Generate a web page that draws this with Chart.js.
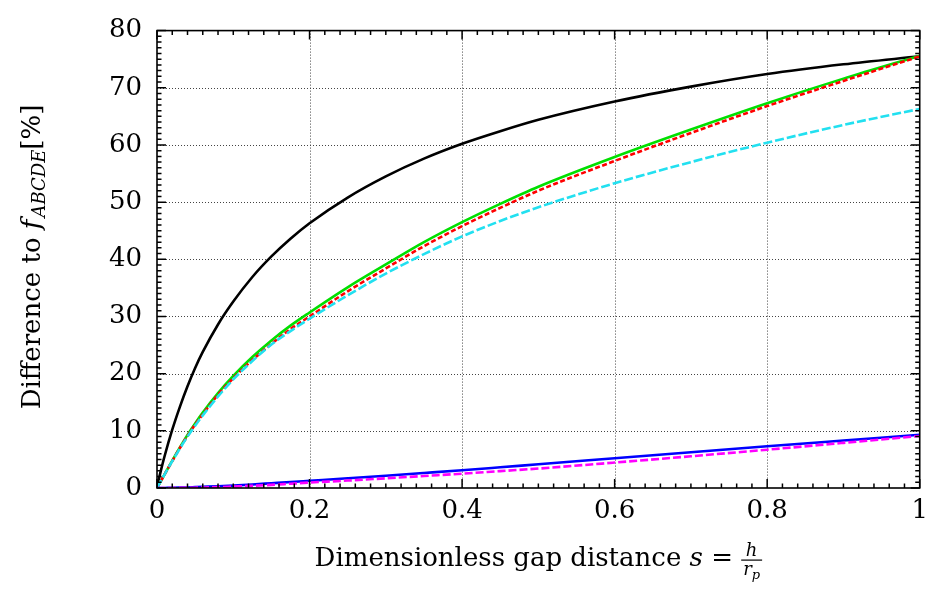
<!DOCTYPE html>
<html>
<head>
<meta charset="utf-8">
<script src="https://cdn.jsdelivr.net/npm/chart.js@4/dist/chart.umd.min.js"></script>
<style>
  html, body { margin: 0; padding: 0; background: #fff; }
  #wrap { width: 936px; height: 593px; position: relative; }
</style>
</head>
<body>
<div id="wrap"><canvas id="c" width="936" height="593"></canvas></div>
<script>
// ---- data ----
const sValues = [0, 0.0025, 0.005, 0.01, 0.02, 0.03, 0.04, 0.05, 0.06, 0.08, 0.1, 0.125, 0.15, 0.175, 0.2, 0.25, 0.3, 0.35, 0.4, 0.45, 0.5, 0.6, 0.7, 0.8, 0.9, 1.0];
const blackSeries   = [0, 1.6, 3.0, 5.6, 10.2, 14.2, 17.8, 21.0, 23.8, 28.6, 32.6, 36.9, 40.5, 43.6, 46.3, 50.8, 54.5, 57.6, 60.2, 62.4, 64.4, 67.6, 70.2, 72.4, 74.1, 75.5];
const greenSeries   = [0, 0.6, 1.2, 2.4, 4.8, 7.1, 9.3, 11.3, 13.2, 16.6, 19.6, 22.9, 25.8, 28.4, 30.7, 35.1, 39.1, 43.0, 46.5, 49.7, 52.7, 57.9, 62.7, 67.3, 71.6, 75.6];
const redSeries     = [0, 0.6, 1.2, 2.4, 4.7, 7.0, 9.1, 11.1, 12.9, 16.3, 19.2, 22.4, 25.2, 27.8, 30.0, 34.4, 38.4, 42.3, 45.8, 49.0, 52.0, 57.2, 62.1, 66.8, 71.2, 75.5];
const cyanSeries    = [0, 0.6, 1.2, 2.4, 4.7, 6.9, 9.0, 10.9, 12.7, 16.0, 19.0, 22.2, 25.1, 27.45, 29.6, 33.7, 37.5, 40.9, 44.0, 46.7, 49.1, 53.3, 57.0, 60.4, 63.5, 66.3];
const blueSeries    = [0, 0, 0, 0.01, 0.03, 0.06, 0.1, 0.15, 0.2, 0.3, 0.42, 0.62, 0.83, 1.04, 1.26, 1.7, 2.15, 2.62, 3.1, 3.62, 4.15, 5.2, 6.25, 7.3, 8.3, 9.3];
const magentaSeries = [0, 0, 0, 0, 0.01, 0.02, 0.03, 0.05, 0.08, 0.15, 0.25, 0.38, 0.55, 0.75, 0.95, 1.3, 1.7, 2.1, 2.5, 2.95, 3.4, 4.45, 5.55, 6.7, 7.9, 9.1];

const xTickLabels = ['0', '0.2', '0.4', '0.6', '0.8', '1'];
const yTickLabels = ['0', '10', '20', '30', '40', '50', '60', '70', '80'];

const xTitleMain = 'Dimensionless gap distance ';
const xTitleVar = 's';
const xTitleEq = ' = ';
const xTitleNum = 'h';
const xTitleDen = 'r';
const xTitleDenSub = 'p';
const yTitleMain = 'Difference to ';
const yTitleVar = 'f';
const yTitleSub = 'ABCDE';
const yTitleEnd = '[%]';

const SERIF = '"DejaVu Serif", "Liberation Serif", serif';

function pts(arr) { return sValues.map((s, i) => ({ x: s, y: arr[i] })); }

function ds(label, arr, color, dash, order) {
  return {
    label, data: pts(arr), borderColor: color, backgroundColor: color,
    borderWidth: 2.6, borderDash: dash, pointRadius: 0, showLine: true,
    cubicInterpolationMode: 'monotone', fill: false, order
  };
}

const decorPlugin = {
  id: 'decor',
  beforeDatasetsDraw(chart) {
    const { ctx, chartArea: a, scales: { x, y } } = chart;
    ctx.save();
    ctx.strokeStyle = '#444';
    ctx.lineWidth = 1;
    ctx.setLineDash([1, 2]);
    for (let i = 1; i < xTickLabels.length - 1; i++) {
      const px = Math.round(x.getPixelForValue(i * 0.2)) + 0.5;
      ctx.beginPath(); ctx.moveTo(px, a.top); ctx.lineTo(px, a.bottom); ctx.stroke();
    }
    for (let i = 1; i < yTickLabels.length - 1; i++) {
      const py = Math.round(y.getPixelForValue(i * 10)) + 0.5;
      ctx.beginPath(); ctx.moveTo(a.left, py); ctx.lineTo(a.right, py); ctx.stroke();
    }
    ctx.restore();
  },
  afterDatasetsDraw(chart) {
    const { ctx, chartArea: a, scales: { x, y } } = chart;
    ctx.save();
    ctx.setLineDash([]);
    ctx.strokeStyle = '#000';
    ctx.lineWidth = 1.5;
    for (let i = 0; i <= 50; i++) {
      const px = x.getPixelForValue(i / 50);
      const len = (i % 10 === 0) ? 9 : 4.5;
      ctx.beginPath();
      ctx.moveTo(px, a.bottom); ctx.lineTo(px, a.bottom - len);
      ctx.moveTo(px, a.top); ctx.lineTo(px, a.top + len);
      ctx.stroke();
    }
    for (let i = 0; i <= 80; i++) {
      const py = y.getPixelForValue(i);
      const len = (i % 10 === 0) ? 9 : 4.5;
      ctx.beginPath();
      ctx.moveTo(a.left, py); ctx.lineTo(a.left + len, py);
      ctx.moveTo(a.right, py); ctx.lineTo(a.right - len, py);
      ctx.stroke();
    }
    ctx.lineWidth = 1.6;
    ctx.strokeRect(a.left, a.top, a.right - a.left, a.bottom - a.top);
    ctx.restore();
  },
  afterDraw(chart) {
    const { ctx, chartArea: a } = chart;
    ctx.save();
    ctx.fillStyle = '#000';
    ctx.textBaseline = 'alphabetic';
    ctx.textAlign = 'left';
    // ---- x title ----
    const fMain = '26px ' + SERIF, fIt = 'italic 26px ' + SERIF;
    const fFr = 'italic 18px ' + SERIF, fFrSub = 'italic 13px ' + SERIF;
    ctx.font = fMain; const w1 = ctx.measureText(xTitleMain).width;
    ctx.font = fIt; const w2 = ctx.measureText(xTitleVar).width;
    ctx.font = fMain; const w3 = ctx.measureText(xTitleEq).width;
    ctx.font = fFr; const wn = ctx.measureText(xTitleNum).width; const wd1 = ctx.measureText(xTitleDen).width;
    ctx.font = fFrSub; const wd2 = ctx.measureText(xTitleDenSub).width;
    const wden = wd1 + wd2;
    const wfr = Math.max(wn, wden) + 4;
    const total = w1 + w2 + w3 + wfr;
    const cx = (a.left + a.right) / 2;
    let xx = cx - total / 2;
    const base = 566;
    ctx.font = fMain; ctx.fillText(xTitleMain, xx, base); xx += w1;
    ctx.font = fIt; ctx.fillText(xTitleVar, xx, base); xx += w2;
    ctx.font = fMain; ctx.fillText(xTitleEq, xx, base); xx += w3;
    ctx.font = fFr; ctx.fillText(xTitleNum, xx + (wfr - wn) / 2, 556);
    ctx.fillRect(xx, 559.5, wfr, 1.2);
    const dx = xx + (wfr - wden) / 2;
    ctx.fillText(xTitleDen, dx, 575);
    ctx.font = fFrSub; ctx.fillText(xTitleDenSub, dx + wd1, 579);
    // ---- y title ----
    const fSub = 'italic 18px ' + SERIF;
    ctx.font = fMain; const v1 = ctx.measureText(yTitleMain).width;
    ctx.font = fIt; const v2 = ctx.measureText(yTitleVar).width;
    ctx.font = fSub; const v3 = ctx.measureText(yTitleSub).width;
    ctx.font = fMain; const v4 = ctx.measureText(yTitleEnd).width;
    const ytot = v1 + v2 + 2 + v3 + v4;
    ctx.translate(40, 257);
    ctx.rotate(-Math.PI / 2);
    let yy = -ytot / 2;
    ctx.font = fMain; ctx.fillText(yTitleMain, yy, 0); yy += v1;
    ctx.font = fIt; ctx.fillText(yTitleVar, yy, 0); yy += v2 + 2;
    ctx.font = fSub; ctx.fillText(yTitleSub, yy, 5); yy += v3;
    ctx.font = fMain; ctx.fillText(yTitleEnd, yy, 0);
    ctx.restore();
  }
};

new Chart(document.getElementById('c'), {
  type: 'scatter',
  data: {
    datasets: [
      ds('black', blackSeries, '#000000', [], 6),
      ds('green', greenSeries, '#00e000', [], 5),
      ds('red', redSeries, '#ff0000', [5, 2.5], 4),
      ds('cyan', cyanSeries, '#22e0f0', [9, 3], 3),
      ds('blue', blueSeries, '#0000ff', [], 2),
      ds('magenta', magentaSeries, '#ff00ff', [8, 3], 1)
    ]
  },
  options: {
    responsive: false,
    animation: false,
    events: [],
    layout: { padding: { top: 24, right: 14, left: 0, bottom: 0 } },
    plugins: { legend: { display: false }, tooltip: { enabled: false } },
    scales: {
      x: {
        type: 'linear', min: 0, max: 1,
        afterFit(scale) { scale.height = 105; },
        grid: { display: false, drawTicks: false },
        border: { display: false },
        ticks: {
          stepSize: 0.2, padding: 8, color: '#000', maxRotation: 0,
          font: { family: SERIF, size: 26 },
          callback: (v, i) => xTickLabels[i]
        }
      },
      y: {
        type: 'linear', min: 0, max: 80,
        afterFit(scale) { scale.width = 157; },
        grid: { display: false, drawTicks: false },
        border: { display: false },
        ticks: {
          stepSize: 10, padding: 15, color: '#000',
          font: { family: SERIF, size: 26 },
          callback: (v, i) => yTickLabels[i]
        }
      }
    }
  },
  plugins: [decorPlugin]
});
</script>
</body>
</html>
